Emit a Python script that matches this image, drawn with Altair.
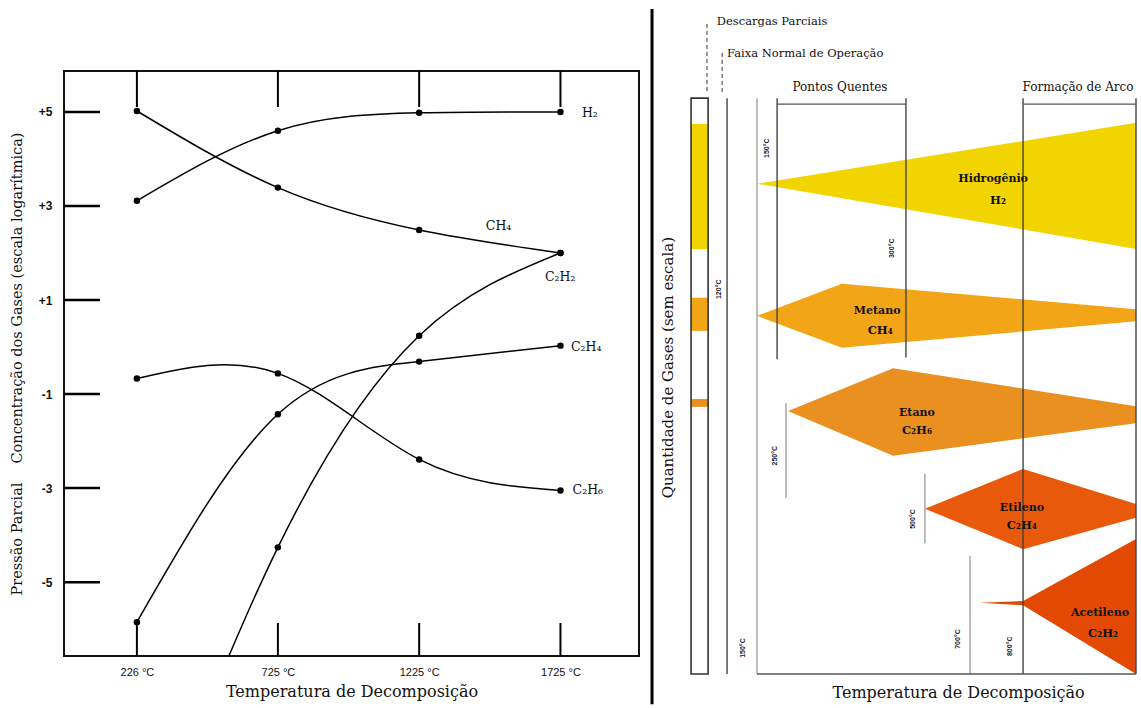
import altair as alt
import pandas as pd

# ---------------- Left panel data ----------------
temps = [226, 725, 1225, 1725]
series = ["H2", "CH4", "C2H2", "C2H4", "C2H6"]
h2 = [3.11, 4.60, 4.98, 5.00]
ch4 = [5.02, 3.39, 2.49, 2.00]
c2h2 = [-11.5, -4.26, 0.24, 2.00]
c2h4 = [-5.85, -1.43, -0.31, 0.03]
c2h6 = [-0.67, -0.56, -2.39, -3.05]
values = [h2, ch4, c2h2, c2h4, c2h6]

label_text = ["H₂", "CH₄", "C₂H₂", "C₂H₄", "C₂H₆"]
label_temp = [1801, 1461, 1670, 1762, 1768]
label_val = [4.98, 2.58, 1.50, 0.01, -3.05]

y_ticks = [5, 3, 1, -1, -3, -5]
x_ticks = [226, 725, 1225, 1725]
X_DOM = [-32, 2003]
Y_DOM = [-6.57, 5.87]

# ---------------- Right panel data (schematic units 0-100) ----------------
gases = ["H2", "CH4", "C2H6", "C2H4", "C2H2"]
gas_colors = ["#F2D500", "#F2A516", "#EA9020", "#E9590B", "#E24A03"]
shape_u = [[0, 100], [0, 22.4, 100], [8.2, 35.9, 100], [44.3, 70.2, 100], [58.8, 70.2, 100]]
shape_top = [[81.3, 91.4], [59.4, 64.7, 60.5], [43.6, 50.7, 44.4], [27.4, 34.0, 28.2], [11.8, 12.1, 22.4]]
shape_bot = [[81.3, 70.5], [59.4, 54.1, 58.5], [43.6, 36.2, 41.6], [27.4, 20.7, 25.9], [11.8, 11.4, 0]]

band_gas = ["H2", "CH4", "C2H6"]
band_top = [91.2, 62.4, 45.6]
band_bot = [70.5, 56.9, 44.3]
col_u = [-17.4, -12.9]
col_v = [0, 95.5]

name_line1 = ["Hidrogênio", "Metano", "Etano", "Etileno", "Acetileno"]
name_line2 = ["H₂", "CH₄", "C₂H₆", "C₂H₄", "C₂H₂"]
name_u1 = [62.3, 31.7, 42.2, 69.9, 90.5]
name_v1 = [82.1, 60.2, 43.3, 27.5, 10.1]
name_u2 = [63.6, 32.5, 42.2, 69.9, 91.3]
name_v2 = [78.4, 56.9, 40.3, 24.5, 6.6]

dark_u = [-7.9, 5.3, 39.3, 70.2, 100]
dark_v0 = [95.5, 95.5, 95.5, 95.5, 95.5]
dark_v1 = [0, 52.2, 52.5, 0, 0]
gray_u = [0, 7.65, 44.3, 56.2]
gray_v0 = [95.5, 44.9, 33.2, 19.6]
gray_v1 = [0, 29.2, 21.7, 0]
brack_u0 = [5.3, 70.2, 0]
brack_u1 = [39.3, 100, 100]
brack_v = [94.5, 94.5, 0]

temp_lbl = ["120°C", "150°C", "150°C", "250°C", "300°C", "500°C", "700°C", "800°C"]
temp_u = [-10.0, -3.7, 2.6, 4.7, 35.6, 41.2, 53.0, 66.8]
temp_v = [63.8, 4.3, 87.2, 36.2, 70.6, 25.7, 5.8, 4.6]

head_txt = ["Descargas Parciais", "Faixa Normal de Operação"]
head_u = [-10.6, -7.9]
head_v = [108.1, 102.8]
zone_txt = ["Pontos Quentes", "Formação de Arco"]
zone_u = [21.9, 84.7]
zone_v = [97.3, 97.3]

lead_u = [-13.2, -9.2]
lead_v0 = [107.8, 103.0]
lead_v1 = [96.4, 96.4]

# ---------------- Left chart ----------------
rows = []
for s, vals in zip(series, values):
    for t, v in zip(temps, vals):
        rows.append({"gas": s, "temp": t, "val": v})
df = pd.DataFrame(rows)
df_pts = df[(df.val >= Y_DOM[0]) & (df.val <= Y_DOM[1])]
df_lab = pd.DataFrame({"txt": label_text, "temp": label_temp, "val": label_val})
df_yt = pd.DataFrame({"val": y_ticks})
df_xt = pd.DataFrame({"temp": x_ticks})

xs = alt.Scale(domain=X_DOM, nice=False, zero=False)
ys = alt.Scale(domain=Y_DOM, nice=False, zero=False)
x_axis = alt.Axis(values=x_ticks, labelExpr="datum.value + ' °C'", ticks=False, tickSize=0,
                  domain=False, grid=False, labelPadding=10, labelFont="Liberation Sans",
                  labelFontSize=11, labelColor="#111", title="Temperatura de Decomposição",
                  titleFont="DejaVu Serif", titleFontSize=16, titleFontWeight="normal",
                  titlePadding=6, titleColor="#111")
y_axis = alt.Axis(values=y_ticks, labelExpr="datum.value > 0 ? '+' + datum.value : '' + datum.value",
                  ticks=False, tickSize=0, domain=False, grid=False, labelPadding=12,
                  labelFont="Liberation Sans", labelFontSize=12, labelFontWeight="bold",
                  labelColor="#111",
                  title="Pressão Parcial\u2003 Concentração dos Gases (escala logarítmica)",
                  titleFont="DejaVu Serif", titleFontSize=14.5, titleFontWeight="normal",
                  titlePadding=14, titleColor="#111")
X = alt.X("temp:Q", scale=xs, axis=x_axis)
Y = alt.Y("val:Q", scale=ys, axis=y_axis)

lines = alt.Chart(df).mark_line(interpolate="natural", color="black", strokeWidth=1.5, clip=True).encode(
    x=X, y=Y, detail="gas:N")
pts = alt.Chart(df_pts).mark_circle(size=42, color="black", opacity=1).encode(x=X, y=Y)
ytk = alt.Chart(df_yt).mark_rule(color="black", strokeWidth=2.5).encode(
    y=Y, x=alt.value(0), x2=alt.value(36))
xtk_top = alt.Chart(df_xt).mark_rule(color="black", strokeWidth=2).encode(
    x=X, y=alt.value(0), y2=alt.value(36))
xtk_bot = alt.Chart(df_xt).mark_rule(color="black", strokeWidth=2).encode(
    x=X, y=alt.value(552), y2=alt.value(585))
labs = alt.Chart(df_lab).mark_text(align="left", baseline="middle", font="DejaVu Serif",
                                   fontSize=12.5, color="#111").encode(x=X, y=Y, text="txt:N")

left = alt.layer(ytk, xtk_top, xtk_bot, lines, pts, labs).properties(
    width=575, height=585, view=alt.ViewBackground(stroke="#111", strokeWidth=2, fill="white"))

# ---------------- Right chart ----------------
us = alt.Scale(domain=[0, 100], nice=False, zero=False)
vs = alt.Scale(domain=[0, 100], nice=False, zero=False)
U = lambda f: alt.X(f, type="quantitative", scale=us, axis=None)
V = lambda f: alt.Y(f, type="quantitative", scale=vs, axis=None)
color = alt.Color("gas:N", scale=alt.Scale(domain=gases, range=gas_colors), legend=None)

srows = []
for g, uu, tt, bb in zip(gases, shape_u, shape_top, shape_bot):
    for u, t, b in zip(uu, tt, bb):
        srows.append({"gas": g, "u": u, "top": t, "bot": b})
df_sh = pd.DataFrame(srows)
shapes = alt.Chart(df_sh).mark_area(interpolate="linear", opacity=1).encode(
    x=U("u"), y=alt.Y("top:Q", scale=vs, axis=None, stack=None), y2="bot:Q", color=color, detail="gas:N")

df_band = pd.DataFrame({"gas": band_gas, "top": band_top, "bot": band_bot,
                        "u0": col_u[0], "u1": col_u[1]})
bands = alt.Chart(df_band).mark_rect(opacity=1).encode(
    x=U("u0"), x2="u1:Q", y=V("top"), y2="bot:Q", color=color)
df_col = pd.DataFrame({"u0": [col_u[0]], "u1": [col_u[1]], "v0": [col_v[0]], "v1": [col_v[1]]})
col_box = alt.Chart(df_col).mark_rect(fillOpacity=0, stroke="#333", strokeWidth=1.6).encode(
    x=U("u0"), x2="u1:Q", y=V("v0"), y2="v1:Q")

df_dark = pd.DataFrame({"u": dark_u, "v0": dark_v0, "v1": dark_v1})
dark = alt.Chart(df_dark).mark_rule(color="#444", strokeWidth=1.4).encode(x=U("u"), y=V("v0"), y2="v1:Q")
df_gray = pd.DataFrame({"u": gray_u, "v0": gray_v0, "v1": gray_v1})
gray = alt.Chart(df_gray).mark_rule(color="#9a9a9a", strokeWidth=1.3).encode(x=U("u"), y=V("v0"), y2="v1:Q")
df_br = pd.DataFrame({"u0": brack_u0, "u1": brack_u1, "v": brack_v})
brk = alt.Chart(df_br).mark_rule(color="#555", strokeWidth=1.3).encode(x=U("u0"), x2="u1:Q", y=V("v"))

df_lead = pd.DataFrame({"u": lead_u, "v0": lead_v0, "v1": lead_v1})
lead = alt.Chart(df_lead).mark_rule(color="#333", strokeWidth=1, strokeDash=[4, 3]).encode(
    x=U("u"), y=V("v0"), y2="v1:Q")

df_n1 = pd.DataFrame({"t": name_line1, "u": name_u1, "v": name_v1})
df_n2 = pd.DataFrame({"t": name_line2, "u": name_u2, "v": name_v2})
n1 = alt.Chart(df_n1).mark_text(font="DejaVu Serif", fontSize=11, fontWeight="bold", color="#111",
                                baseline="middle").encode(x=U("u"), y=V("v"), text="t:N")
n2 = alt.Chart(df_n2).mark_text(font="DejaVu Serif", fontSize=11.5, fontWeight="bold", color="#111",
                                baseline="middle").encode(x=U("u"), y=V("v"), text="t:N")

df_tl = pd.DataFrame({"t": temp_lbl, "u": temp_u, "v": temp_v})
tl = alt.Chart(df_tl).mark_text(angle=270, fontSize=7, font="Liberation Sans", fontWeight="bold",
                                color="#223", baseline="middle").encode(x=U("u"), y=V("v"), text="t:N")

df_head = pd.DataFrame({"t": head_txt, "u": head_u, "v": head_v})
head = alt.Chart(df_head).mark_text(font="DejaVu Serif", fontSize=11.5, color="#111", align="left",
                                    baseline="middle").encode(x=U("u"), y=V("v"), text="t:N")
df_zone = pd.DataFrame({"t": zone_txt, "u": zone_u, "v": zone_v})
zone = alt.Chart(df_zone).mark_text(font="DejaVu Serif", fontSize=12, color="#111",
                                    baseline="middle").encode(x=U("u"), y=V("v"), text="t:N")

df_titles = pd.DataFrame({"t": ["Temperatura de Decomposição"], "u": [53.2], "v": [-3.2]})
xt = alt.Chart(df_titles).mark_text(font="DejaVu Serif", fontSize=16, color="#111",
                                    baseline="middle").encode(x=U("u"), y=V("v"), text="t:N")
df_yt2 = pd.DataFrame({"t": ["Quantidade de Gases (sem escala)"], "u": [-23.5], "v": [50.8]})
yt2 = alt.Chart(df_yt2).mark_text(font="DejaVu Serif", fontSize=15, color="#111", angle=270,
                                  baseline="middle").encode(x=U("u"), y=V("v"), text="t:N")

df_div = pd.DataFrame({"u": [-27.7], "v0": [110.3], "v1": [-5.0]})
div = alt.Chart(df_div).mark_rule(color="black", strokeWidth=3).encode(x=U("u"), y=V("v0"), y2="v1:Q")

right = alt.layer(shapes, bands, col_box, gray, dark, brk, lead, n1, n2, tl, head, zone, xt, yt2, div).properties(
    width=379, height=603, view=alt.ViewBackground(stroke="transparent", fill="white"))

chart = alt.hconcat(left, right, spacing=10).properties(
    padding={"left": 8, "top": 6, "right": 2, "bottom": 3}, background="white")

chart.save("out.html", embed_options={"renderer": "svg", "actions": False})
